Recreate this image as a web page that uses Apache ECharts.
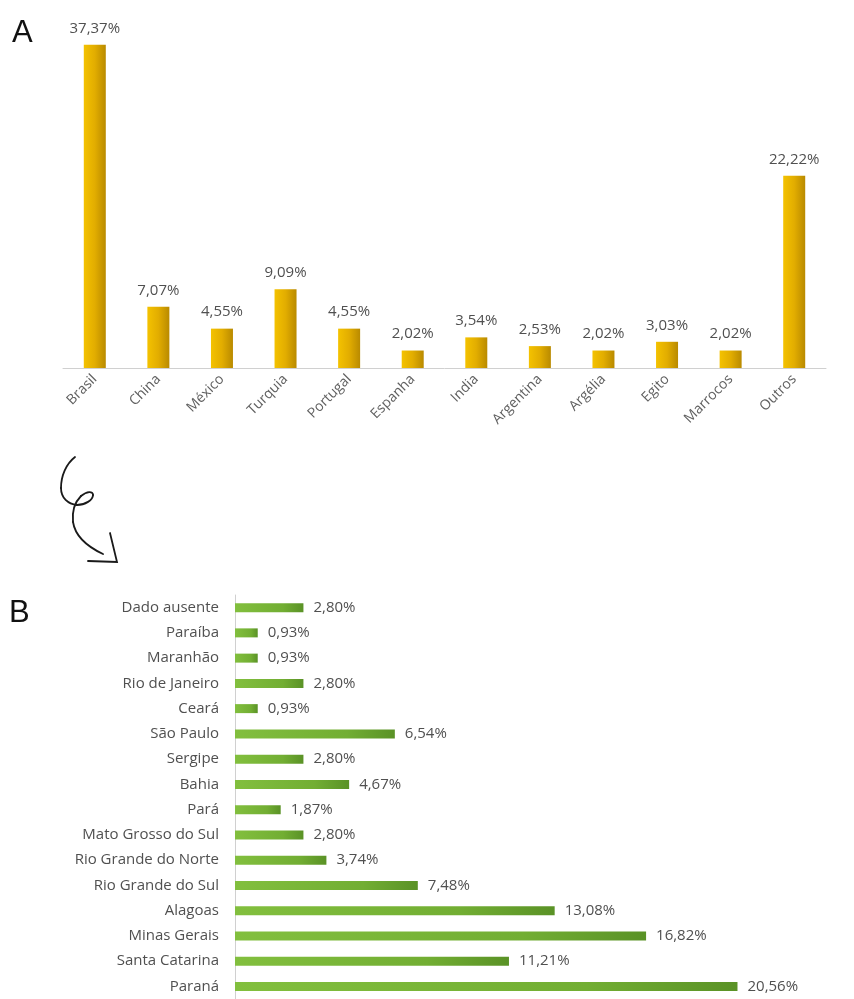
<!DOCTYPE html>
<html>
<head>
<meta charset="utf-8">
<script src="https://cdn.jsdelivr.net/npm/echarts@6/dist/echarts.min.js"></script>
<style>
  html, body { margin: 0; padding: 0; background: #fff; }
  #chart { width: 854px; height: 999px; }
</style>
</head>
<body>
<div id="chart"></div>
<script>
// Panel A: countries
const countries = ['Brasil', 'China', 'México', 'Turquia', 'Portugal', 'Espanha', 'India', 'Argentina', 'Argélia', 'Egito', 'Marrocos', 'Outros'];
const countryShare = [37.37, 7.07, 4.55, 9.09, 4.55, 2.02, 3.54, 2.53, 2.02, 3.03, 2.02, 22.22];

// Panel B: Brazilian states (top to bottom as listed)
const states = ['Dado ausente', 'Paraíba', 'Maranhão', 'Rio de Janeiro', 'Ceará', 'São Paulo', 'Sergipe', 'Bahia', 'Pará', 'Mato Grosso do Sul', 'Rio Grande do Norte', 'Rio Grande do Sul', 'Alagoas', 'Minas Gerais', 'Santa Catarina', 'Paraná'];
const stateShare = [2.80, 0.93, 0.93, 2.80, 0.93, 6.54, 2.80, 4.67, 1.87, 2.80, 3.74, 7.48, 13.08, 16.82, 11.21, 20.56];

const FONT = '"Open Sans", Lato, sans-serif';
const pct = v => v.toFixed(2).replace('.', ',') + '%';

const gold = new echarts.graphic.LinearGradient(0, 0, 1, 0, [
  { offset: 0, color: '#f4c200' },
  { offset: 0.5, color: '#e2ad00' },
  { offset: 1, color: '#b98a00' }
]);
const green = new echarts.graphic.LinearGradient(0, 0, 1, 0, [
  { offset: 0, color: '#82bf3e' },
  { offset: 0.7, color: '#72ae33' },
  { offset: 1, color: '#5a9226' }
]);

// curly arrow strokes: [x1, y1, cpx1, cpy1, cpx2, cpy2, x2, y2]
const arrowStroke = { fill: 'none', stroke: '#1a1a1a', lineWidth: 1.8, lineCap: 'round' };
const arrowCurves = [
  [75, 457, 66, 464, 61, 476, 61, 488],
  [61, 488, 61, 498, 68, 504, 77, 505],
  [77, 505, 85, 505, 93, 500, 93, 495],
  [93, 495, 93, 491, 87, 491, 81, 496],
  [81, 496, 75, 502, 72, 512, 73, 522],
  [73, 522, 75, 535, 86, 546, 103, 554]
].map(c => ({
  type: 'bezierCurve',
  shape: { x1: c[0], y1: c[1], cpx1: c[2], cpy1: c[3], cpx2: c[4], cpy2: c[5], x2: c[6], y2: c[7] },
  style: arrowStroke
}));

const chart = echarts.init(document.getElementById('chart'), null, { renderer: 'canvas' });

chart.setOption({
  animation: false,
  backgroundColor: '#ffffff',
  textStyle: { fontFamily: FONT },
  grid: [
    { left: 63, right: 28, top: 22, height: 346 },
    { left: 235, right: 8, top: 595, height: 404 }
  ],
  xAxis: [
    {
      gridIndex: 0,
      type: 'category',
      data: countries,
      axisLine: { lineStyle: { color: '#d0d0d0', width: 1 } },
      axisTick: { show: false },
      axisLabel: { rotate: 45, color: '#606060', fontSize: 14, fontFamily: FONT, margin: 9, interval: 0 }
    },
    {
      gridIndex: 1,
      type: 'value',
      min: 0,
      max: 25,
      show: false,
      splitLine: { show: false }
    }
  ],
  yAxis: [
    {
      gridIndex: 0,
      type: 'value',
      min: 0,
      max: 40,
      show: false,
      splitLine: { show: false }
    },
    {
      gridIndex: 1,
      type: 'category',
      data: states,
      inverse: true,
      axisLine: { lineStyle: { color: '#d0d0d0', width: 1 } },
      axisTick: { show: false },
      axisLabel: { color: '#505050', fontSize: 15, fontFamily: FONT, margin: 16, interval: 0 }
    }
  ],
  series: [
    {
      type: 'bar',
      xAxisIndex: 0,
      yAxisIndex: 0,
      data: countryShare,
      barWidth: 22,
      itemStyle: { color: gold },
      label: {
        show: true,
        position: 'top',
        distance: 9,
        color: '#505050',
        fontSize: 15,
        fontFamily: FONT,
        formatter: p => pct(p.value)
      }
    },
    {
      type: 'bar',
      xAxisIndex: 1,
      yAxisIndex: 1,
      data: stateShare,
      barWidth: 9,
      itemStyle: { color: green },
      label: {
        show: true,
        position: 'right',
        distance: 10,
        color: '#505050',
        fontSize: 15,
        fontFamily: FONT,
        formatter: p => pct(p.value)
      }
    }
  ],
  graphic: [
    {
      type: 'text',
      left: 12,
      top: 18,
      style: { text: 'A', fontSize: 31, fontFamily: '"Liberation Sans", Arial, sans-serif', fill: '#111' }
    },
    {
      type: 'text',
      left: 9,
      top: 598,
      style: { text: 'B', fontSize: 31, fontFamily: '"Liberation Sans", Arial, sans-serif', fill: '#111' }
    },
    ...arrowCurves,
    {
      type: 'polyline',
      shape: { points: [[110, 533], [117, 562], [88, 561]] },
      style: arrowStroke
    }
  ]
});
</script>
</body>
</html>
